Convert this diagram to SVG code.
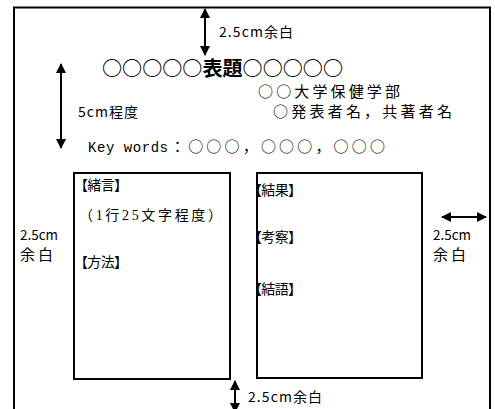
<svg xmlns="http://www.w3.org/2000/svg" width="495" height="409" viewBox="0 0 495 409">
<style>
.frame{fill:none;stroke:#000;stroke-width:2}
.box{fill:none;stroke:#000;stroke-width:2}
.arr{stroke:#000;stroke-width:2;fill:none;marker-start:url(#ah);marker-end:url(#ah)}
text{fill:#000;font-family:"Noto Sans CJK JP","Liberation Sans",sans-serif}
.t{font-size:14px}
.s{font-family:"Liberation Serif","Noto Sans CJK JP",serif;font-size:14px}
.m{font-family:"Liberation Mono","DejaVu Sans Mono",monospace;font-size:14px}
</style>
<defs>
<marker id="ah" viewBox="0 0 10 10" refX="9" refY="5" markerWidth="10" markerHeight="10" markerUnits="userSpaceOnUse" orient="auto-start-reverse">
<path d="M0,0 L10,5 L0,10 Z" fill="#000"/>
</marker>
</defs>
<rect width="495" height="409" fill="#fff"/>
<g id="page">
<path class="frame" d="M14,409 V7.5 H490 V409"/>
</g>
<g id="title">
<text x="102" y="76" font-size="20" font-weight="bold" textLength="241" lengthAdjust="spacingAndGlyphs">○○○○○表題○○○○○</text>
</g>
<g id="affiliation">
<text x="258" y="97" font-size="15" textLength="142" lengthAdjust="spacing">○○大学保健学部</text>
<text x="273" y="117" font-size="15" textLength="179" lengthAdjust="spacing">○発表者名，共著者名</text>
</g>
<g id="keywords">
<text class="m" x="88" y="152" textLength="80" lengthAdjust="spacing">Key words</text>
<text x="170" y="152" font-size="15" textLength="215" lengthAdjust="spacing">：○○○，○○○，○○○</text>
</g>
<g id="left-column">
<rect class="box" x="74" y="173" width="156" height="206"/>
<text class="t" x="74" y="190" textLength="54" lengthAdjust="spacing">【緒言】</text>
<text class="s" x="79" y="220" textLength="143" lengthAdjust="spacing">（1行25文字程度）</text>
<text class="t" x="74" y="267" textLength="54" lengthAdjust="spacing">【方法】</text>
</g>
<g id="right-column">
<rect class="box" x="257" y="173" width="165" height="205"/>
<text class="t" x="248" y="195" textLength="54" lengthAdjust="spacing">【結果】</text>
<text class="t" x="248" y="242" textLength="54" lengthAdjust="spacing">【考察】</text>
<text class="t" x="248" y="294" textLength="54" lengthAdjust="spacing">【結語】</text>
</g>
<g id="labels">
<text x="219" y="37" font-size="14" textLength="74" lengthAdjust="spacing">2.5cm余白</text>
<text x="78" y="117" font-size="14" textLength="60" lengthAdjust="spacing">5cm程度</text>
<text x="20" y="240" font-size="14" textLength="38" lengthAdjust="spacingAndGlyphs">2.5cm</text>
<text x="20" y="260" font-size="15" textLength="33" lengthAdjust="spacing">余白</text>
<text x="433" y="240" font-size="14" textLength="38" lengthAdjust="spacingAndGlyphs">2.5cm</text>
<text x="433" y="260" font-size="15" textLength="33" lengthAdjust="spacing">余白</text>
<text x="248" y="402" font-size="14" textLength="74" lengthAdjust="spacing">2.5cm余白</text>
</g>
<g id="connectors">
<line class="arr" x1="205" y1="9" x2="205" y2="55"/>
<line class="arr" x1="61" y1="64" x2="61" y2="148"/>
<line class="arr" x1="442" y1="217" x2="486" y2="217"/>
<line class="arr" x1="235" y1="381" x2="235" y2="412"/>
</g>
</svg>
